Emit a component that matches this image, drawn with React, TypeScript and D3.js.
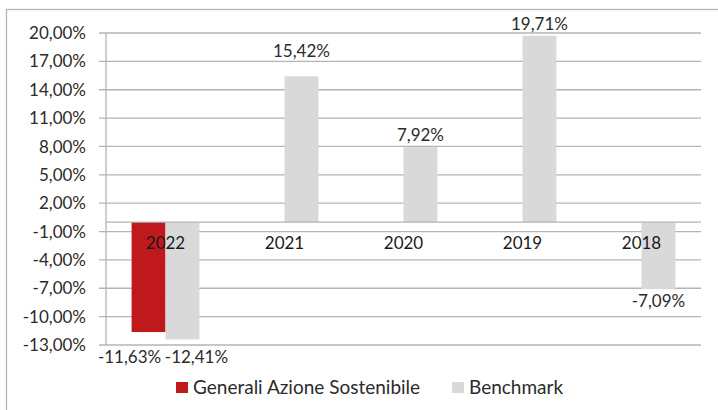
import React, { useRef, useEffect } from "react";
import * as d3 from "d3";

const years = ["2022", "2021", "2020", "2019", "2018"];
const seriesNames = ["Generali Azione Sostenibile", "Benchmark"];
const fundValues: (number | null)[] = [-11.63, null, null, null, null];
const benchValues: (number | null)[] = [-12.41, 15.42, 7.92, 19.71, -7.09];
const yTicks = [20, 17, 14, 11, 8, 5, 2, -1, -4, -7, -10, -13];

const colors = ["#c0191d", "#d9d9da"];
const font = "Lato, 'Open Sans', sans-serif";
const textColor = "#2b2b2b";
const gridColor = "#b4b4b4";

// labels that were dragged by hand in the original
const nudge: Record<string, [number, number]> = {
  "0-2022": [-19, 13],
  "1-2022": [14, 5.5],
  "1-2021": [0, -13],
};

const it = d3.formatLocale({ decimal: ",", thousands: ".", grouping: [3], currency: ["", "€"], minus: "-" });
const pct = (v: number) => it.format(".2f")(v) + "%";

export default function App() {
  const ref = useRef<SVGSVGElement>(null);

  useEffect(() => {
    const svg = d3.select(ref.current);
    svg.selectAll("*").remove();

    const left = 106, right = 701, top = 33, bottom = 345;

    const y = d3.scaleLinear().domain([-13, 20]).range([bottom, top]);
    const x0 = d3.scaleBand().domain(years).range([left, right]).paddingInner(0.43).paddingOuter(0.215);
    const x1 = d3.scaleBand().domain(["0", "1"]).range([0, x0.bandwidth()]);

    // outer frame
    svg.append("rect")
      .attr("x", 6.5).attr("y", 9.5).attr("width", 730).attr("height", 420)
      .attr("fill", "none").attr("stroke", gridColor).attr("stroke-width", 1.3);

    // gridlines + ticks
    svg.append("g").selectAll("line").data(yTicks).join("line")
      .attr("x1", left - 7).attr("x2", right)
      .attr("y1", (d) => y(d)).attr("y2", (d) => y(d))
      .attr("stroke", gridColor).attr("stroke-width", 1.3);

    svg.append("g").selectAll("text").data(yTicks).join("text")
      .attr("x", 86).attr("y", (d) => y(d)).attr("dy", "0.36em")
      .attr("text-anchor", "end")
      .attr("font-family", font).attr("font-size", 17).attr("fill", textColor)
      .text((d) => pct(d));

    // bars
    const series = [fundValues, benchValues];
    series.forEach((vals, si) => {
      const rows = years.map((yr, i) => ({ yr, v: vals[i] })).filter((r) => r.v != null) as { yr: string; v: number }[];
      svg.append("g").selectAll("rect").data(rows).join("rect")
        .attr("x", (d) => (x0(d.yr) as number) + (x1(String(si)) as number))
        .attr("width", x1.bandwidth())
        .attr("y", (d) => y(Math.max(0, d.v)))
        .attr("height", (d) => Math.abs(y(d.v) - y(0)))
        .attr("fill", colors[si]);
    });

    // axes lines
    svg.append("line")
      .attr("x1", left).attr("x2", right).attr("y1", y(0)).attr("y2", y(0))
      .attr("stroke", gridColor).attr("stroke-width", 1.3);
    svg.append("line")
      .attr("x1", left).attr("x2", left).attr("y1", top).attr("y2", bottom)
      .attr("stroke", gridColor).attr("stroke-width", 1.3);

    // category labels
    svg.append("g").selectAll("text").data(years).join("text")
      .attr("x", (d) => (x0(d) as number) + x0.bandwidth() / 2)
      .attr("y", y(0) + 27)
      .attr("text-anchor", "middle")
      .attr("font-family", font).attr("font-size", 17).attr("fill", "#1a1a1a")
      .text((d) => d);

    // data labels
    series.forEach((vals, si) => {
      const rows = years.map((yr, i) => ({ yr, v: vals[i] })).filter((r) => r.v != null) as { yr: string; v: number }[];
      svg.append("g").selectAll("text").data(rows).join("text")
        .attr("x", (d) => (x0(d.yr) as number) + (x1(String(si)) as number) + x1.bandwidth() / 2 + (nudge[si + "-" + d.yr]?.[0] ?? 0))
        .attr("y", (d) => (d.v >= 0 ? y(d.v) - 6 : y(d.v) + 18) + (nudge[si + "-" + d.yr]?.[1] ?? 0))
        .attr("text-anchor", "middle")
        .attr("font-family", font).attr("font-size", 17).attr("fill", textColor)
        .text((d) => pct(d.v));
    });

    // legend
    const legend = svg.append("g");
    const lx = [176, 452];
    seriesNames.forEach((name, i) => {
      legend.append("rect").attr("x", lx[i]).attr("y", 382).attr("width", 12).attr("height", 11).attr("fill", colors[i]);
      legend.append("text").attr("x", lx[i] + 17).attr("y", 387.5).attr("dy", "0.36em")
        .attr("font-family", font).attr("font-size", 19).attr("fill", textColor)
        .text(name);
    });
  }, []);

  return (
    <svg ref={ref} width={718} height={410}
      style={{ position: "absolute", left: 0, top: 0, background: "#fff", display: "block" }} />
  );
}
